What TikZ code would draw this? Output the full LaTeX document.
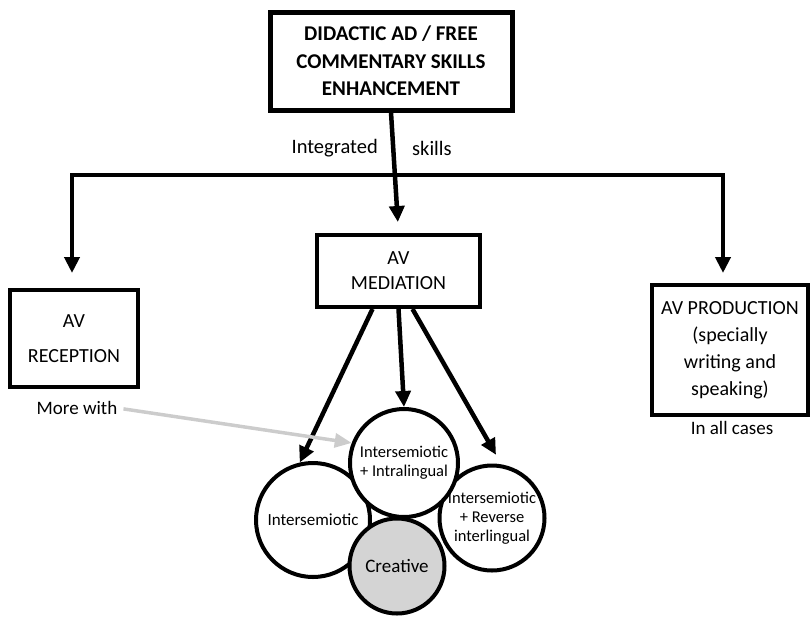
\documentclass[tikz,border=0pt]{standalone}
\usepackage{fontspec}
\setmainfont{Carlito}
\usetikzlibrary{arrows.meta}
\tikzset{
  box/.style={draw, line width=4pt, align=center, inner sep=0pt, font=\fontsize{20}{27}\selectfont},
  bubble/.style={draw, circle, line width=4pt, fill=white, align=center, inner sep=0pt, font=\fontsize{16.5}{19}\selectfont},
  conn/.style={line width=4.5pt, -{Triangle[length=16pt,width=15pt]}},
  greyconn/.style={line width=3.5pt, color=black!20, -{Triangle[length=17pt,width=14pt]}},
  lbl/.style={inner sep=0pt, font=\fontsize{19}{22}\selectfont}
}
\begin{document}
\begin{tikzpicture}[x=1pt,y=-1pt]
    \useasboundingbox (0,0) rectangle (810,616);
    \node[box, line width=5pt, minimum width=242pt, minimum height=98pt, font=\bfseries\fontsize{21}{27.5}\selectfont] (didactic) at (391,61) {DIDACTIC AD / FREE\\COMMENTARY SKILLS\\ENHANCEMENT};
    \node[box, minimum width=163pt, minimum height=72pt] (med) at (398.5,271) {AV\\[-2pt]MEDIATION};
    \node[box, minimum width=128pt, minimum height=97pt] (rec) at (74,338.5) {AV\\[8pt]RECEPTION};
    \node[box, minimum width=156pt, minimum height=130pt] (prod) at (730,350) {AV PRODUCTION\\(specially\\writing and\\speaking)};
    \node[lbl, font=\fontsize{20.5}{24}\selectfont, anchor=east] (integ) at (378,148) {Integrated};
    \node[lbl, font=\fontsize{20.5}{24}\selectfont, anchor=west] (skills) at (412,148) {skills};
    \node[lbl] (more) at (77,408) {More with};
    \node[lbl] (allcases) at (732,428) {In all cases};
    \node[bubble, minimum size=114pt, font=\fontsize{17}{19}\selectfont] (isem) at (313,520) {Intersemiotic};
    \node[bubble, minimum size=105pt] (rev) at (492,518) {Intersemiotic\\+ Reverse\\interlingual};
    \node[bubble, minimum size=108pt] (ipl) at (404,463) {Intersemiotic\\+ Intralingual};
    \node[bubble, minimum size=95pt, fill=black!17, font=\fontsize{19}{22}\selectfont] (creative) at (397,566) {Creative};
    \coordinate (split) at (395,175);
    \draw[conn, shorten >=11pt] (didactic.south) -- (med.north);
    \draw[conn, shorten >=15pt] (split) -| ([xshift=-2pt]rec.north);
    \draw[conn, shorten >=10pt] (split) -| ([xshift=-7pt]prod.north);
    \draw[conn] ([xshift=-26pt]med.south) -- (isem.103);
    \draw[conn] (med.south) -- (ipl.north);
    \draw[conn, shorten >=11pt] ([xshift=14pt]med.south) -- (rev.80);
    \draw[greyconn, shorten <=6pt] (more.east) -- (ipl.159);
\end{tikzpicture}
\end{document}
